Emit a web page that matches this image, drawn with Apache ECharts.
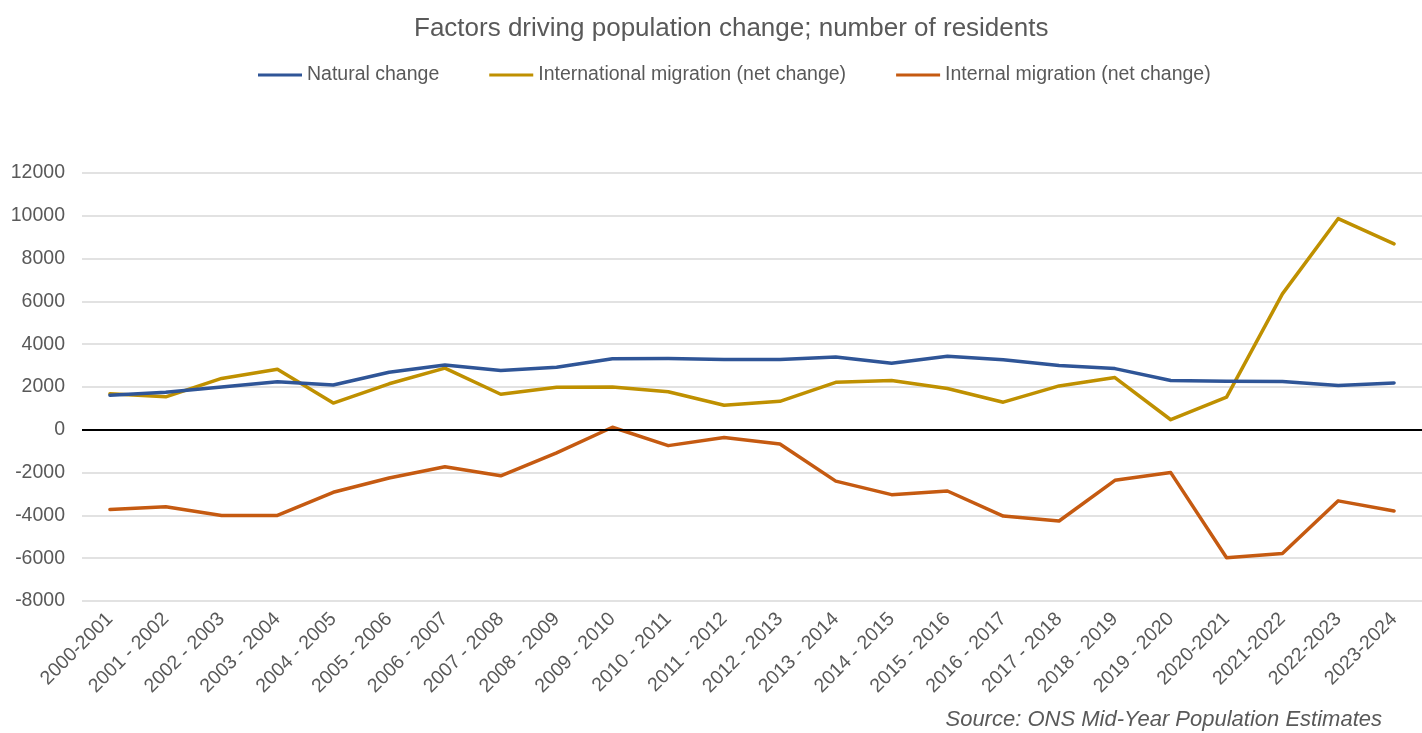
<!DOCTYPE html>
<html>
<head>
<meta charset="utf-8">
<script src="https://cdn.jsdelivr.net/npm/echarts@6/dist/echarts.min.js"></script>
<style>html,body{margin:0;padding:0;background:#fff}#c{width:1422px;height:733px}</style>
</head>
<body>
<div id="c"></div>
<script>
const categories = ["2000-2001","2001 - 2002","2002 - 2003","2003 - 2004","2004 - 2005","2005 - 2006","2006 - 2007","2007 - 2008","2008 - 2009","2009 - 2010","2010 - 2011","2011 - 2012","2012 - 2013","2013 - 2014","2014 - 2015","2015 - 2016","2016 - 2017","2017 - 2018","2018 - 2019","2019 - 2020","2020-2021","2021-2022","2022-2023","2023-2024"];
const naturalChange = [1620,1750,2000,2240,2090,2690,3030,2770,2920,3320,3330,3290,3280,3400,3110,3440,3270,3000,2860,2300,2270,2260,2070,2190];
const internationalMigration = [1680,1540,2400,2830,1250,2150,2880,1660,1990,2000,1780,1150,1330,2220,2300,1930,1290,2050,2440,470,1530,6350,9870,8690];
const internalMigration = [-3720,-3600,-4000,-4000,-2920,-2250,-1730,-2150,-1080,120,-740,-360,-660,-2400,-3030,-2860,-4030,-4260,-2360,-2000,-5980,-5780,-3320,-3790];
const yTicks = {min:-8000, max:12000, interval:2000};

const font = '"Liberation Sans", Arial, sans-serif';
const chart = echarts.init(document.getElementById('c'));
const lineSeries = (name, data, color) => ({
  name, type:'line', data, symbol:'none', smooth:false,
  lineStyle:{color, width:3.5, cap:'round', join:'round'},
  itemStyle:{color},
  animation:false
});
const s1 = lineSeries('Natural change', naturalChange, '#2F5597');
const s2 = lineSeries('International migration (net change)', internationalMigration, '#BF9000');
const s3 = lineSeries('Internal migration (net change)', internalMigration, '#C55A11');
s1.markLine = {silent:true, symbol:'none', label:{show:false}, lineStyle:{color:'#000', width:2, type:'solid'}, data:[{yAxis:0}], animation:false};
s1.z = 3; s2.z = 2; s3.z = 2;
chart.setOption({
  animation:false,
  backgroundColor:'#fff',
  title:{text:'Factors driving population change; number of residents', left:409, top:11,
    textStyle:{fontFamily:font, fontSize:26, fontWeight:'normal', color:'#595959'}},
  legend:{top:60, left:253, itemWidth:44, itemHeight:3, itemGap:50, icon:'rect',
    textStyle:{fontFamily:font, fontSize:19.5, color:'#595959'},
    data:['Natural change','International migration (net change)','Internal migration (net change)']},
  grid:{left:82, right:-8, top:173, bottom:132, containLabel:false},
  xAxis:{type:'category', data:categories, boundaryGap:true,
    axisLine:{show:false}, axisTick:{show:false},
    axisLabel:{interval:0, rotate:45, margin:15, fontFamily:font, fontSize:19.5, color:'#595959'}},
  yAxis:{type:'value', min:yTicks.min, max:yTicks.max, interval:yTicks.interval,
    axisLine:{show:false}, axisTick:{show:false},
    axisLabel:{margin:17, fontFamily:font, fontSize:19.5, color:'#595959', formatter:(v) => String(v)},
    splitLine:{lineStyle:{color:'#D9D9D9', width:1.5}}},
  graphic:[{type:'text', right:40, top:709,
    style:{text:'Source: ONS Mid-Year Population Estimates', font:'italic 22px "Liberation Sans", Arial, sans-serif', fill:'#595959'}}],
  series:[s1,s2,s3]
});
</script>
</body>
</html>
